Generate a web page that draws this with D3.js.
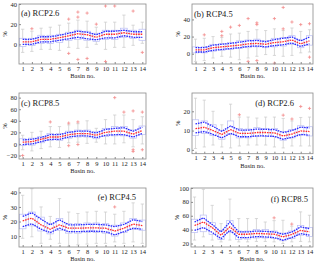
<!DOCTYPE html>
<html>
<head>
<meta charset="utf-8">
<script src="https://cdn.jsdelivr.net/npm/d3@7"></script>
<style>
  body { margin: 0; background: #fff; }
  text { font-family: "Liberation Serif", "DejaVu Serif", serif; fill: #222; }
</style>
</head>
<body>
<svg id="chart" width="320" height="265"></svg>
<script>
const basins = [1, 2, 3, 4, 5, 6, 7, 8, 9, 10, 11, 12, 13, 14];

// (a) RCP2.6
const aMed = [2.5, 2.5, 5, 5, 6.5, 8.5, 10.5, 9.5, 7, 10, 10, 11.5, 10, 10];
const aHi = [5, 5, 7.5, 7.5, 9, 11, 13, 12, 9.5, 13, 13, 14, 12.5, 12.5];
const aLo = [0, 0, 2.5, 2.5, 4, 5.5, 7, 5.5, 4.5, 6.5, 6.5, 8.5, 7, 7];
const aQ1 = [-2, -1, 1, 1, 2, 4, 5, 4, 3, 5, 5, 7, 6, 4];
const aQ3 = [6, 6, 9, 9, 10, 12, 14, 13, 11, 14, 14, 16, 14, 15];
const aWLo = [-8, -7, -5, -5, -6, -3, -4, -3, 0, -5, -3, -3, -1, 1];
const aWHi = [15, 13, 16, 17, 19, 21, 24, 23, 17, 22, 22, 29, 19, 22];
const aOut = [[2, 15.5], [6, 25], [6, -9], [7, 32], [7, 27], [7, -15], [8, 31], [8, -14],
  [9, 20], [10, 38], [10, -17], [11, 38], [13, 33], [14, -8]];

// (b) RCP4.5
const bMed = [4.5, 4.5, 7, 8, 9, 10, 11.5, 12, 11, 13, 14, 16, 11.5, 15];
const bHi = [7, 7, 10, 11, 12, 13.5, 15, 15.5, 14, 16.5, 18, 19.5, 15, 19.5];
const bLo = [2, 2, 4, 5, 6, 7, 8.5, 9, 8, 9.5, 10.5, 12.5, 8.5, 11.5];
const bQ1 = [1, 1, 3, 4, 5, 6, 7, 8, 7, 8, 9, 11, 7, 10];
const bQ3 = [8, 8, 11, 12, 13, 15, 16, 17, 15, 18, 19, 21, 16, 21];
const bWLo = [-9, -8, -5, -3, -4, -7, -5, -3, -1, -2, -3, -2, 1, 2];
const bWHi = [17, 18, 20, 19, 23, 24, 26, 28, 27, 29, 27, 30, 26, 28];
const bOut = [[2, 22], [4, 26], [4, 21], [5, 31], [6, 33], [7, 41], [7, -9], [8, 36], [8, 34],
  [8, -8], [10, 41], [10, -11], [11, 54], [11, 29], [12, 37], [13, 34], [14, 35], [14, -4]];

// (c) RCP8.5
const cMed = [3, 4, 8, 12, 12, 16, 18, 18, 15, 20, 22, 22, 17, 23];
const cHi = [7, 8, 11, 16, 16, 20, 22, 22, 19, 25, 27, 28, 22, 29];
const cLo = [-1, 0, 4, 8, 8, 12, 14, 14, 11, 15, 16, 16, 12, 18];
const cQ1 = [-3, -2, 2, 6, 6, 10, 12, 12, 9, 13, 14, 14, 10, 16];
const cQ3 = [9, 10, 13, 18, 18, 22, 24, 24, 21, 27, 30, 30, 24, 31];
const cWLo = [-10, -12, -8, -5, -6, 2, 3, 1, 3, 0, 0, 2, -5, 0];
const cWHi = [15, 20, 22, 30, 30, 33, 35, 40, 27, 42, 50, 50, 42, 47];
const cOut = [[1, -20], [4, 38], [6, 36], [6, -3], [7, 38], [7, -1], [11, 80], [12, 55],
  [13, 57], [13, -10], [13, -13], [14, 55], [14, -10]];

// (d) RCP2.6
const dMed = [11, 11.7, 10, 8, 10.5, 8.5, 8.5, 9, 9, 8.8, 7.2, 8.2, 9.8, 9.5];
const dHi = [13.5, 14.4, 12.2, 9.6, 12.4, 10.2, 10.2, 10.8, 10.6, 10.5, 9, 10, 11.8, 11.4];
const dLo = [8.8, 9.5, 8, 6.2, 8.6, 6.8, 6.8, 7.3, 7.2, 7, 5.5, 6.5, 8, 7.6];
const dQ1 = [7.4, 8.5, 7.5, 5.5, 7.9, 6.2, 6.2, 7, 7, 6.8, 5, 6.2, 7.8, 7.2];
const dQ3 = [15.6, 15, 13, 10, 15, 11, 10.8, 11.5, 11, 11, 9.5, 10.5, 12.5, 12];
const dWLo = [0.7, 1.5, 2.5, 1.5, 1, 2, 2.5, 2.5, 2.5, 1.5, 1, 2, 2, 2];
const dWHi = [26.8, 25.8, 20, 13, 23.7, 17, 17, 16.5, 17, 17, 16.3, 15, 16.8, 17];
const dOut = [[6, 18.2], [11, 18], [12, 16], [13, 22.5], [14, 21.5]];

// (e) RCP4.5
const eMed = [20.5, 22.3, 17.7, 14.7, 17.7, 15.4, 15.4, 15.6, 15.6, 15.4, 13.5, 15.4, 18.2, 17.2];
const eHi = [23.5, 26, 21.6, 17.7, 21.2, 17.7, 17.7, 18, 18, 17.7, 16.5, 18, 21.2, 20];
const eLo = [16.5, 18.4, 14.7, 12.4, 15.4, 13, 13, 13.3, 13.3, 13, 10.8, 13, 15.4, 14.7];
const eQ1 = [15, 17, 13.5, 11.5, 14, 12, 12, 12.5, 12.5, 12, 10, 12.5, 14.5, 14];
const eQ3 = [25, 26.5, 23, 18.5, 22, 18.5, 18.5, 19, 19, 18.5, 17.5, 19, 22, 21];
const eWLo = [8.5, 9.5, 5, 7.8, 5, 3, 4, 4.5, 5, 5, 6, 5, 6, 5];
const eWHi = [38, 42.5, 30, 23.5, 35.7, 26.5, 25.5, 26.5, 27, 26.5, 25, 27, 32.8, 32];
const eOut = [[11, 30]];

// (f) RCP8.5
const fMed = [46, 51, 43, 32, 44, 33.4, 33.4, 34.5, 34, 33.4, 29.6, 33, 39, 36.7];
const fHi = [51, 57, 47.5, 36.7, 51, 36.7, 36.7, 38, 37.5, 36.7, 33.4, 36.5, 44, 41.5];
const fLo = [39, 43, 36, 27, 39, 28.6, 28.6, 30, 29.5, 28.6, 24.8, 28.6, 34.4, 32];
const fQ1 = [36, 37, 33, 26, 36, 26, 26.5, 28, 28, 27, 24, 27, 32, 30];
const fQ3 = [55, 61, 50, 39, 53, 38, 38, 40, 40, 38, 35, 38, 46, 43];
const fWLo = [25, 29.6, 25, 22.4, 25, 22.4, 22.4, 23, 23, 22.4, 20, 22.4, 23, 22.4];
const fWHi = [87, 98, 75, 48.7, 84, 56, 56, 56, 51, 53, 53.5, 45, 65.6, 60.7];
const fOut = [[10, 57], [12, 48]];

const panels = [
  { label: '(a) RCP2.6', med: aMed, hi: aHi, lo: aLo, q1: aQ1, q3: aQ3, wlo: aWLo, whi: aWHi, out: aOut,
    x0: 19, x1: 146, y0: 4, y1: 64, yDomain: [-19.5, 40], yTicks: [0, 20, 40], lx: 21, ly: 16, anchor: 'start' },
  { label: '(b) RCP4.5', med: bMed, hi: bHi, lo: bLo, q1: bQ1, q3: bQ3, wlo: bWLo, whi: bWHi, out: bOut,
    x0: 192, x1: 313, y0: 4, y1: 64, yDomain: [-12, 58], yTicks: [0, 20, 40], lx: 194, ly: 17, anchor: 'start' },
  { label: '(c) RCP8.5', med: cMed, hi: cHi, lo: cLo, q1: cQ1, q3: cQ3, wlo: cWLo, whi: cWHi, out: cOut,
    x0: 19, x1: 146, y0: 93, y1: 159, yDomain: [-26, 88], yTicks: [-20, 0, 20, 40, 60, 80], lx: 21, ly: 106, anchor: 'start' },
  { label: '(d) RCP2.6', med: dMed, hi: dHi, lo: dLo, q1: dQ1, q3: dQ3, wlo: dWLo, whi: dWHi, out: dOut,
    x0: 192, x1: 313, y0: 93, y1: 153.7, yDomain: [-2, 29.5], yTicks: [0, 10, 20], lx: 294, ly: 106, anchor: 'end' },
  { label: '(e) RCP4.5', med: eMed, hi: eHi, lo: eLo, q1: eQ1, q3: eQ3, wlo: eWLo, whi: eWHi, out: eOut,
    x0: 19, x1: 146, y0: 188, y1: 247, yDomain: [2.5, 43], yTicks: [10, 20, 30, 40], lx: 136, ly: 200, anchor: 'end' },
  { label: '(f) RCP8.5', med: fMed, hi: fHi, lo: fLo, q1: fQ1, q3: fQ3, wlo: fWLo, whi: fWHi, out: fOut,
    x0: 191, x1: 313, y0: 188, y1: 247, yDomain: [15, 100], yTicks: [20, 40, 60, 80, 100], lx: 308, ly: 202, anchor: 'end' }
];

const svg = d3.select('#chart');

function drawPanel(p) {
  const x = d3.scaleLinear().domain([0.6, 14.4]).range([p.x0, p.x1]);
  const y = d3.scaleLinear().domain(p.yDomain).range([p.y1, p.y0]);
  const g = svg.append('g');
  const bw = (x(2) - x(1)) * 0.36;

  // whiskers
  basins.forEach((b, i) => {
    const cx = x(b);
    g.append('line').attr('x1', cx).attr('x2', cx).attr('y1', y(p.wlo[i])).attr('y2', y(p.q1[i]))
      .attr('stroke', '#c8c8c8').attr('stroke-width', 0.7);
    g.append('line').attr('x1', cx).attr('x2', cx).attr('y1', y(p.q3[i])).attr('y2', y(p.whi[i]))
      .attr('stroke', '#c8c8c8').attr('stroke-width', 0.7);
    [p.wlo[i], p.whi[i]].forEach(v => {
      g.append('line').attr('x1', cx - bw * 0.5).attr('x2', cx + bw * 0.5).attr('y1', y(v)).attr('y2', y(v))
        .attr('stroke', '#c8c8c8').attr('stroke-width', 0.7);
    });
  });

  // boxes
  g.selectAll('rect.box').data(basins).enter().append('rect')
    .attr('class', 'box')
    .attr('x', d => x(d) - bw)
    .attr('width', bw * 2)
    .attr('y', (d, i) => y(p.q3[i]))
    .attr('height', (d, i) => y(p.q1[i]) - y(p.q3[i]))
    .attr('fill', 'none')
    .attr('stroke', '#b8bcf4')
    .attr('stroke-width', 0.7);

  // outliers
  g.selectAll('path.out').data(p.out).enter().append('path')
    .attr('class', 'out')
    .attr('d', d => `M${x(d[0]) - 1.6},${y(d[1])}h3.2M${x(d[0])},${y(d[1]) - 1.6}v3.2`)
    .attr('stroke', '#f28a8a')
    .attr('stroke-width', 0.8);

  // lines
  const line = arr => d3.line().x(d => x(d)).y((d, i) => y(arr[i]))(basins);
  [[p.hi, '#2a2aff'], [p.lo, '#2a2aff'], [p.med, '#ff2a2a']].forEach(([arr, col]) => {
    g.append('path').attr('d', line(arr)).attr('fill', 'none')
      .attr('stroke', col).attr('stroke-width', 1.3).attr('stroke-dasharray', '1.6,0.9');
  });

  // frame
  g.append('rect').attr('x', p.x0).attr('y', p.y0).attr('width', p.x1 - p.x0).attr('height', p.y1 - p.y0)
    .attr('fill', 'none').attr('stroke', '#8a8a8a').attr('stroke-width', 0.8);

  // axes
  const xAxis = g.append('g').attr('transform', `translate(0,${p.y1})`)
    .call(d3.axisBottom(x).tickValues(basins).tickSize(-2).tickPadding(2));
  const yAxis = g.append('g').attr('transform', `translate(${p.x0},0)`)
    .call(d3.axisLeft(y).tickValues(p.yTicks).tickSize(-2).tickPadding(2));
  [xAxis, yAxis].forEach(ax => {
    ax.select('.domain').remove();
    ax.selectAll('line').attr('stroke', '#8a8a8a');
    ax.selectAll('text').attr('font-size', 6.5).attr('font-family', '"Liberation Serif", serif').attr('fill', '#222');
  });

  g.append('text').attr('x', (p.x0 + p.x1) / 2).attr('y', p.y1 + 14)
    .attr('text-anchor', 'middle').attr('font-size', 6.5).text('Basin no.');
  g.append('text').attr('transform', `translate(${p.x0 - 12},${(p.y0 + p.y1) / 2}) rotate(-90)`)
    .attr('text-anchor', 'middle').attr('font-size', 6.5).text('%');
  g.append('text').attr('x', p.lx).attr('y', p.ly).attr('text-anchor', p.anchor)
    .attr('font-size', 8.5).text(p.label);
}

panels.forEach(drawPanel);
</script>
</body>
</html>
